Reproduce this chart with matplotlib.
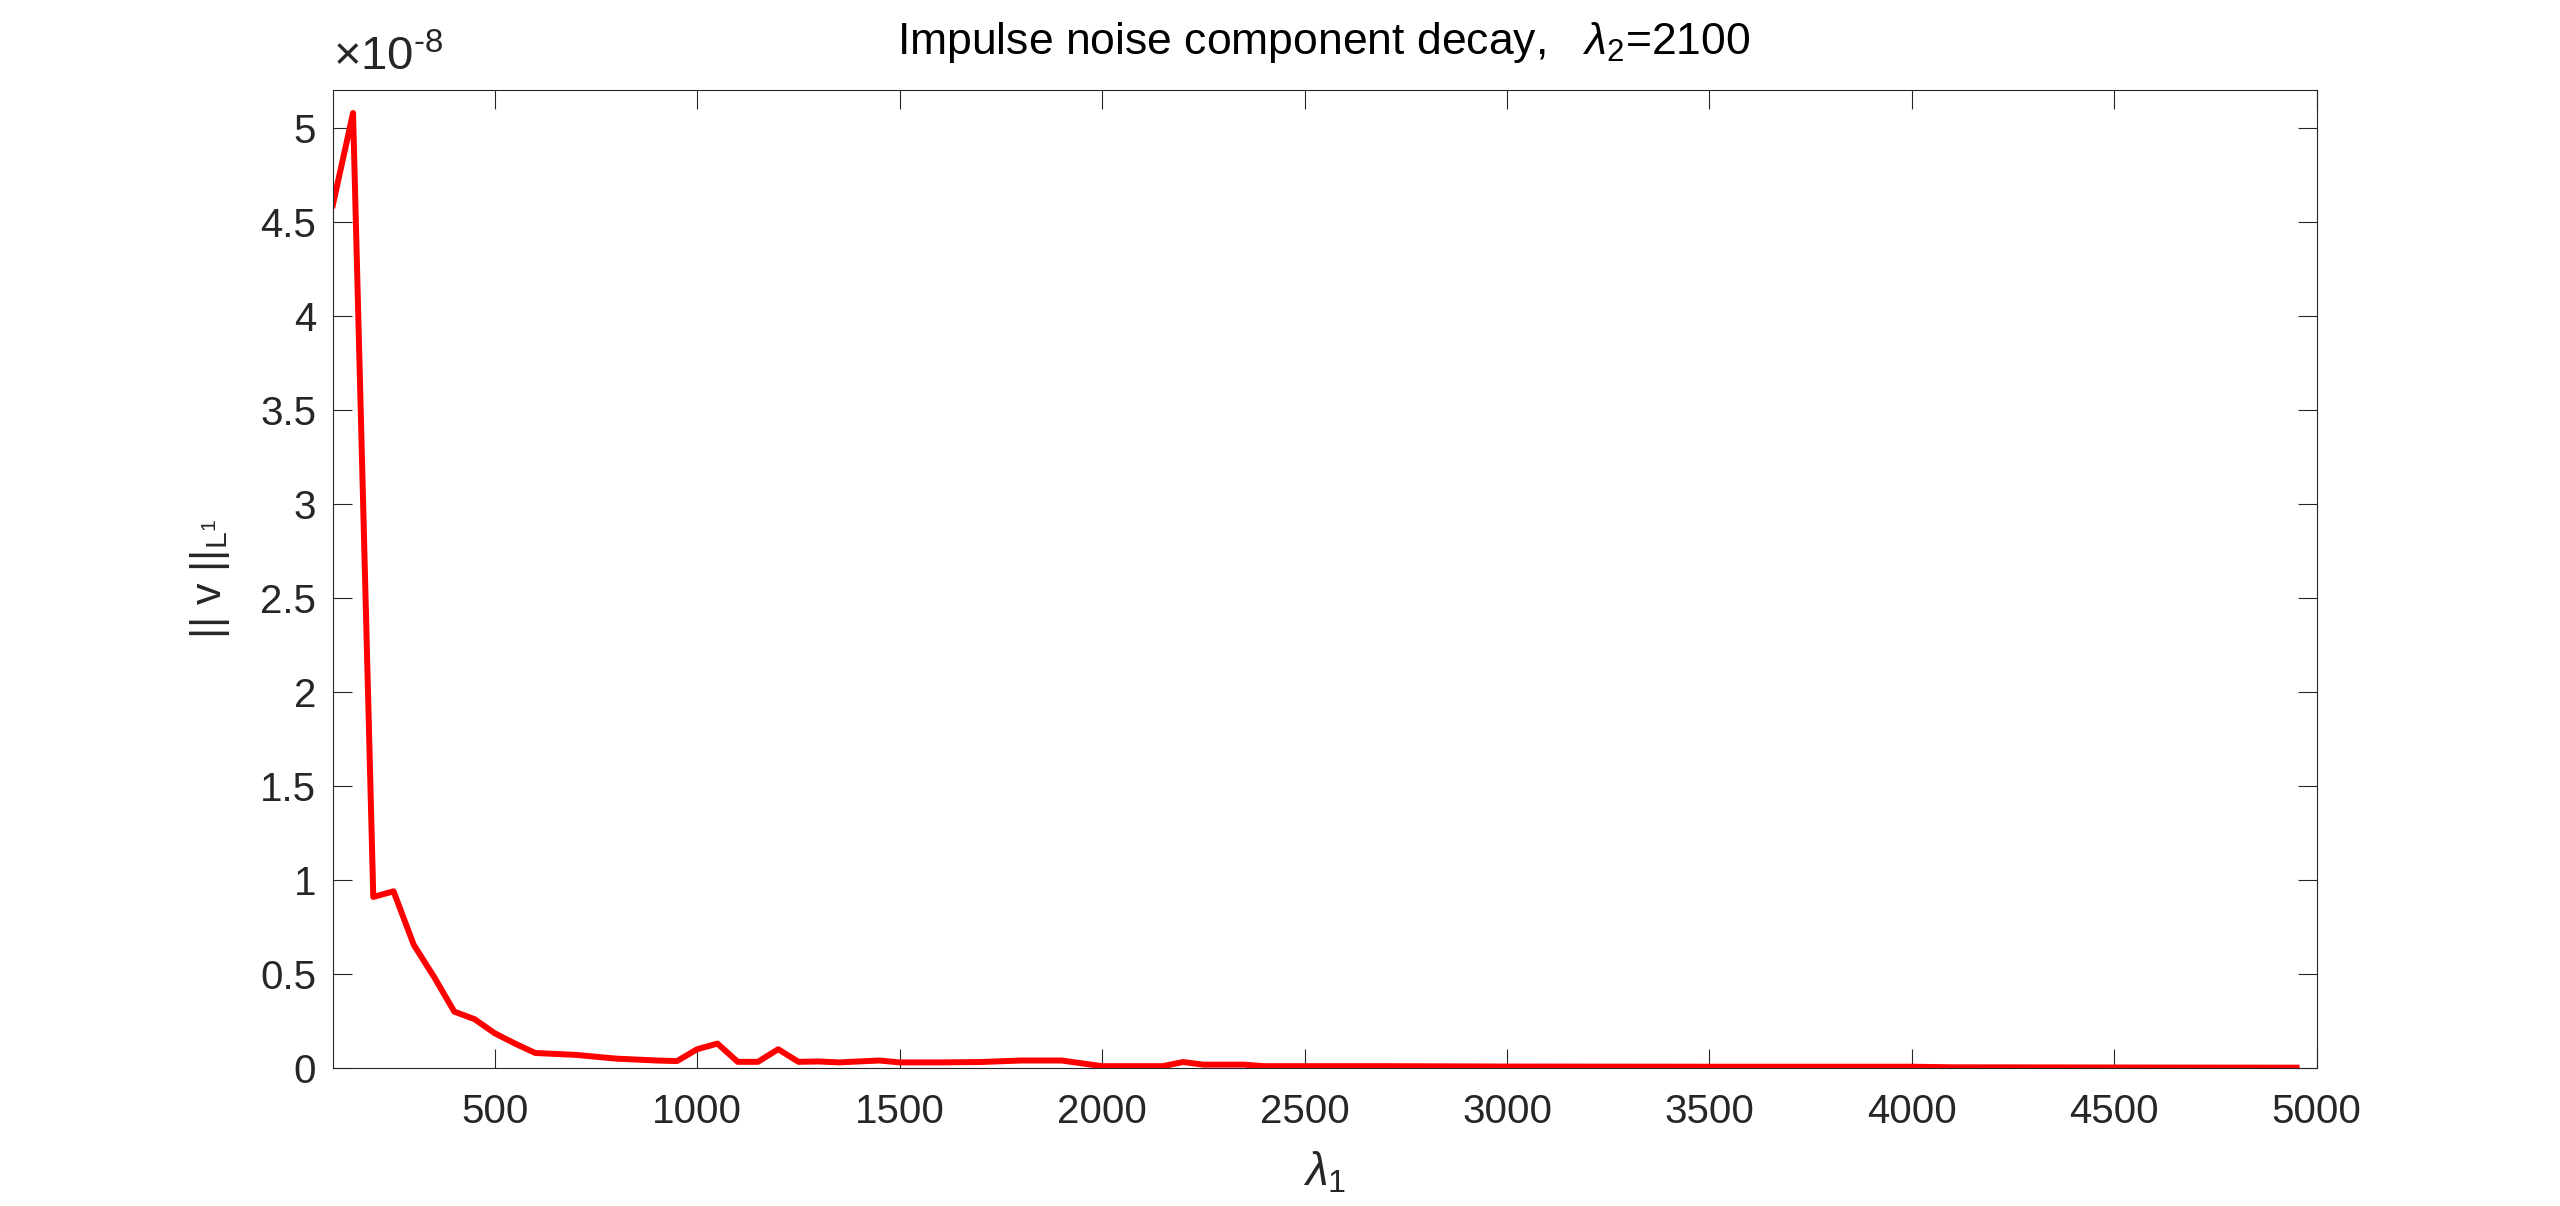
import matplotlib
matplotlib.use('Agg')
import matplotlib.pyplot as plt
from matplotlib.ticker import FormatStrFormatter, MultipleLocator

plt.rcParams['font.family'] = ['Liberation Sans', 'DejaVu Sans']
plt.rcParams['mathtext.fontset'] = 'custom'
plt.rcParams['mathtext.rm'] = 'Liberation Sans'
plt.rcParams['mathtext.it'] = 'Liberation Sans:italic'

# lambda_1 values and ||v||_L1 (in units of 1e-8)
lambda1 = [100, 150, 200, 250, 300, 350, 400, 450, 500, 550, 600, 700, 800,
           900, 950, 1000, 1050, 1100, 1150, 1200, 1250, 1300, 1350, 1400,
           1450, 1500, 1600, 1700, 1800, 1900, 2000, 2150, 2200, 2250, 2350,
           2400, 2700, 3000, 3500, 4000, 4100, 4500, 4950]
v_norm = [4.59, 5.08, 0.91, 0.94, 0.655, 0.485, 0.30, 0.26, 0.185, 0.13,
          0.08, 0.07, 0.05, 0.04, 0.037, 0.10, 0.13, 0.033, 0.033, 0.10,
          0.033, 0.035, 0.03, 0.035, 0.04, 0.03, 0.03, 0.032, 0.04, 0.04,
          0.01, 0.01, 0.032, 0.018, 0.018, 0.01, 0.01, 0.008, 0.007, 0.007,
          0.004, 0.003, 0.002]

grey = '#262626'

fig = plt.figure(figsize=(25.6, 12.06), dpi=100)
ax = fig.add_axes([0.130, 0.1144, 0.775, 0.8106])
ax.plot(lambda1, v_norm, color='#ff0000', lw=4.3)

ax.set_xlim(100, 5000)
ax.set_ylim(0, 5.2)
ax.xaxis.set_major_locator(MultipleLocator(500))
ax.yaxis.set_major_locator(MultipleLocator(0.5))
ax.yaxis.set_major_formatter(FormatStrFormatter('%g'))
ax.tick_params(direction='in', length=14, width=0.8, colors=grey,
               labelsize=29, top=True, right=True, pad=12)
ax.tick_params(axis='x', pad=18)
for s in ax.spines.values():
    s.set_color(grey)
    s.set_linewidth(0.8)

fig.text(0.517, 0.955, r'Impulse noise component decay,   $\lambda_2$=2100',
         fontsize=32, color='black', ha='center', va='baseline')
ax.set_xlabel(r'$\lambda_1$', fontsize=33, color=grey, labelpad=14)
ax.set_ylabel(r'|| v ||$_{\mathrm{L}^1}$', fontsize=31, color=grey, labelpad=20)
ax.text(0.0, 1.010, r'$\times$10$^{\text{-8}}$', transform=ax.transAxes,
        fontsize=34, color=grey, ha='left', va='bottom')

fig.savefig('out.png', dpi=100)
